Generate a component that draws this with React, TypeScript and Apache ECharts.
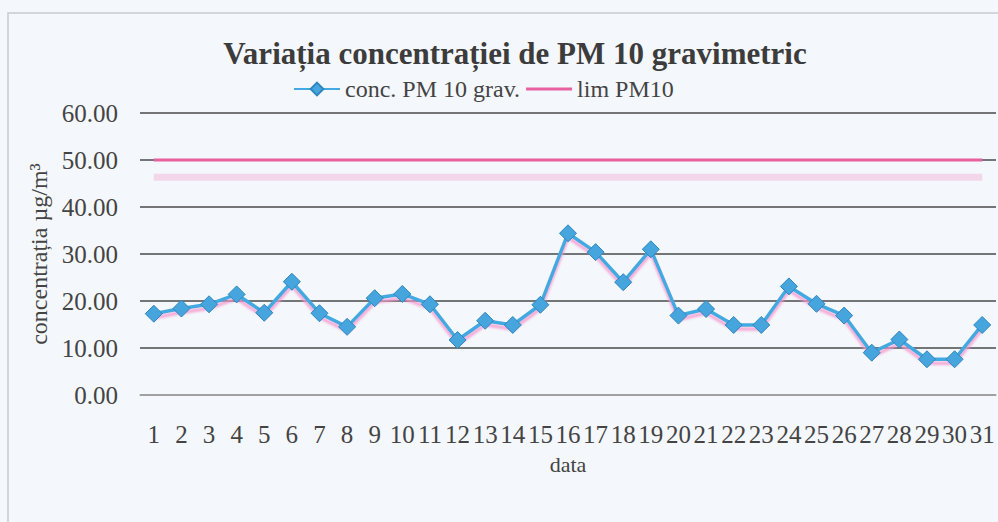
import React, { useEffect, useRef } from "react";
import * as echarts from "echarts";

const days = ["1","2","3","4","5","6","7","8","9","10","11","12","13","14","15","16","17","18","19","20","21","22","23","24","25","26","27","28","29","30","31"];
const concPM10 = [17.3, 18.4, 19.3, 21.4, 17.5, 24.1, 17.4, 14.5, 20.6, 21.5, 19.3, 11.7, 15.8, 14.9, 19.2, 34.4, 30.4, 24.0, 31.0, 16.9, 18.3, 14.9, 14.9, 23.1, 19.4, 16.9, 9.0, 11.8, 7.6, 7.6, 14.9];
const limPM10 = days.map(() => 50);
const yTicks = { min: 0, max: 60, interval: 10 };

const FONT = "Liberation Serif";
const TXT = "#444444";

export default function App() {
  const ref = useRef<HTMLDivElement>(null);
  useEffect(() => {
    if (!ref.current) return;
    const chart = echarts.init(ref.current, undefined, { renderer: "svg" });
    const lim = limPM10[0];
    chart.setOption({
      animation: false,
      backgroundColor: "#f4f7fb",
      textStyle: { fontFamily: FONT, color: TXT },
      graphic: [
        {
          type: "rect",
          shape: { x: 8, y: 13, width: 1000, height: 520 },
          style: { fill: "none", stroke: "#c6cbd1", lineWidth: 1.5 },
          silent: true,
        },
      ],
      title: {
        text: "Variația concentrației de PM 10 gravimetric",
        left: 510,
        textAlign: "center",
        top: 33,
        textStyle: { fontFamily: FONT, fontWeight: "bold", fontSize: 31, color: "#3c3c3c" },
      },
      legend: {
        left: 288,
        top: 72,
        itemGap: 6,
        itemWidth: 46,
        itemHeight: 16,
        textStyle: { fontFamily: FONT, fontSize: 24, color: TXT },
        data: [
          { name: "conc. PM 10 grav." },
          { name: "lim PM10", icon: "path://M0,0 L46,0 L46,3 L0,3 Z" },
        ],
      },
      grid: { left: 140, right: 2, top: 113, bottom: 127, containLabel: false },
      xAxis: {
        type: "category",
        data: days,
        name: "data",
        nameLocation: "middle",
        nameGap: 58,
        nameTextStyle: { fontFamily: FONT, fontSize: 22, color: TXT },
        axisLine: { lineStyle: { color: "#b0b0b0", width: 1.5 } },
        axisTick: { show: false },
        axisLabel: { interval: 0, margin: 27, fontFamily: FONT, fontSize: 25, color: TXT },
      },
      yAxis: {
        type: "value",
        min: yTicks.min,
        max: yTicks.max,
        interval: yTicks.interval,
        name: "concentrația µg/m³",
        nameLocation: "middle",
        nameGap: 88,
        nameTextStyle: { fontFamily: FONT, fontSize: 24, color: TXT },
        axisLine: { show: false },
        axisTick: { show: false },
        axisLabel: {
          margin: 22,
          fontFamily: FONT,
          fontSize: 25,
          color: TXT,
          formatter: (v: number) => v.toFixed(2),
        },
        splitLine: { lineStyle: { color: "#4a4a4a", width: 1.5 } },
      },
      series: [
        {
          name: "conc. PM 10 grav.",
          type: "line",
          data: concPM10,
          symbol: "diamond",
          symbolSize: 17,
          z: 3,
          itemStyle: { color: "#45a5dc", borderColor: "#2f86c0", borderWidth: 1 },
          lineStyle: {
            color: "#42aae0",
            width: 3.5,
            shadowColor: "rgba(245,150,205,0.8)",
            shadowOffsetY: 4,
            shadowBlur: 2,
          },
        },
        {
          name: "lim PM10",
          type: "line",
          data: limPM10,
          symbol: "none",
          showSymbol: false,
          z: 2,
          itemStyle: { color: "#e8609f" },
          lineStyle: { color: "#e8609f", width: 3 },
          markArea: {
            silent: true,
            itemStyle: { color: "rgba(245,165,210,0.4)" },
            data: [[{ xAxis: 0, yAxis: lim - 4.4 }, { xAxis: days.length - 1, yAxis: lim - 2.9 }]],
          },
        },
      ],
    });
    return () => chart.dispose();
  }, []);
  return (
    <div
      ref={ref}
      style={{ position: "fixed", left: 0, top: 0, width: 998, height: 522 }}
    />
  );
}
